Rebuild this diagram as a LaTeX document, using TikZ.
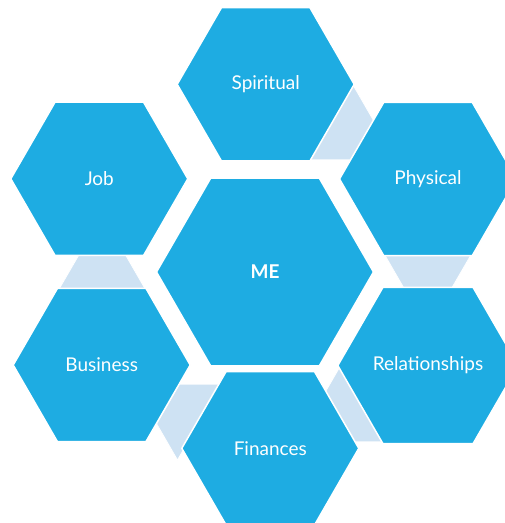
\documentclass[tikz,border=0pt]{standalone}
\usepackage{fontspec}
\setmainfont{Lato}
\usetikzlibrary{shapes.geometric}
\definecolor{hexblue}{RGB}{30,172,226}
\definecolor{linkblue}{RGB}{206,226,243}
\begin{document}
\begin{tikzpicture}[x=1pt,y=-1pt,
  hexbase/.style={regular polygon, regular polygon sides=6, inner sep=0pt, outer sep=0pt,
    fill=hexblue, draw=white, line width=1.5pt, text=white,
    font=\fontsize{19}{22}\selectfont},
  outerhex/.style={hexbase, minimum size=177pt},
  centerhex/.style={hexbase, minimum size=217pt, font=\fontsize{19}{22}\selectfont\bfseries},
  link/.style={fill=linkblue, draw=white, line width=0.8pt, line join=miter}]
\useasboundingbox (0,0) rectangle (505,523);
\clip (0,0) rectangle (505,523);
% connector corner points
\coordinate (t1a) at (352.5,84);   \coordinate (t1b) at (373.5,120.4);
\coordinate (t1c) at (350.8,159.8); \coordinate (t1d) at (308.75,159.8);
\coordinate (t2a) at (384.1,253.8); \coordinate (t2b) at (471.6,253.8);
\coordinate (t2c) at (450.5,290.2); \coordinate (t2d) at (405.1,290.2);
\coordinate (t3a) at (340.3,366);   \coordinate (t3b) at (384.1,441.8);
\coordinate (t3c) at (342,441.8);   \coordinate (t3d) at (319.3,402.4);
\coordinate (t4a) at (221.25,384.2); \coordinate (t4b) at (179.2,384.2);
\coordinate (t4c) at (156.5,423.6); \coordinate (t4d) at (177.5,460);
\coordinate (t6a) at (58.4,290.2);  \coordinate (t6b) at (79.5,253.8);
\coordinate (t6c) at (124.9,253.8); \coordinate (t6d) at (145.9,290.2);
% connectors (behind the hexagons)
\filldraw[link] (t1a) -- (t1b) -- (t1c) -- (t1d) -- cycle;
\filldraw[link] (t2a) -- (t2b) -- (t2c) -- (t2d) -- cycle;
\filldraw[link] (t3a) -- (t3b) -- (t3c) -- (t3d) -- cycle;
\filldraw[link] (t4a) -- (t4b) -- (t4c) -- (t4d) -- cycle;
\filldraw[link] (t6a) -- (t6b) -- (t6c) -- (t6d) -- cycle;
% hexagons
\node[centerhex] (me) at (265,272) {ME};
\node[outerhex] (spiritual) at (265.7,84.3) {Spiritual};
\node[outerhex] (physical) at (428,179) {Physical};
\node[outerhex] (relationships) at (428,365.5) {Relationships};
\node[outerhex] (business) at (101.7,365) {Business};
\node[outerhex] (job) at (99.3,178.8) {Job};
\node[outerhex] (finances) at (270.3,448.3) {Finances};
\end{tikzpicture}
\end{document}
